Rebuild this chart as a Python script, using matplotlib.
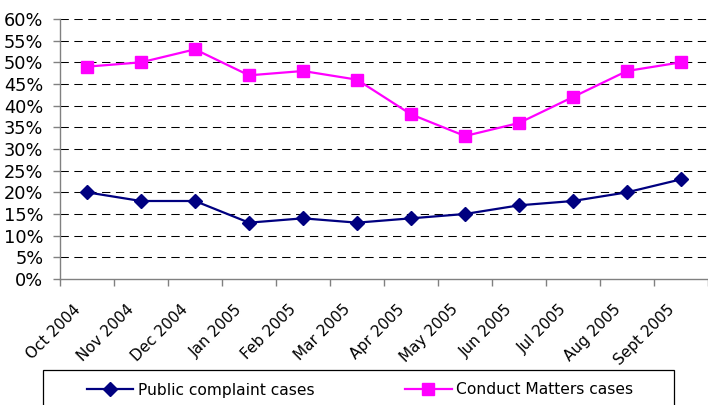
import matplotlib
matplotlib.use("Agg")
import matplotlib.pyplot as plt
import matplotlib.transforms as mtransforms
import numpy as np
from matplotlib.patches import Rectangle
from matplotlib.ticker import FixedLocator, PercentFormatter

# Data
months = ['Oct 2004', 'Nov 2004', 'Dec 2004', 'Jan 2005', 'Feb 2005', 'Mar 2005',
          'Apr 2005', 'May 2005', 'Jun 2005', 'Jul 2005', 'Aug 2005', 'Sept 2005']
public_complaint = [20, 18, 18, 13, 14, 13, 14, 15, 17, 18, 20, 23]
conduct_matters = [49, 50, 53, 47, 48, 46, 38, 33, 36, 42, 48, 50]

plt.rcParams['font.family'] = ['DejaVu Sans']

W, H = 708, 405
fig = plt.figure(figsize=(W / 100, H / 100), dpi=100)
ax = fig.add_axes([60 / W, 1 - 279 / H, 648 / W, 260 / H])

x = np.arange(len(months))
ax.plot(x, public_complaint, color='#000080', lw=1.6, marker='D', markersize=7.5,
        label='Public complaint cases')
ax.plot(x, conduct_matters, color='#FF00FF', lw=1.6, marker='s', markersize=8.5,
        label='Conduct Matters cases')

ax.set_xlim(-0.5, len(months) - 0.5)
ax.set_ylim(0, 60)
ax.set_yticks(np.arange(0, 61, 5))
ax.yaxis.set_major_formatter(PercentFormatter(decimals=0))

# category labels at centers, tick marks at boundaries
ax.set_xticks(x)
ax.set_xticklabels(months, rotation=45, ha='right', va='center', rotation_mode='anchor',
                   fontsize=11)
ax.tick_params(axis='x', which='major', length=0, pad=18)
shift = mtransforms.ScaledTranslation(-9 / 100, -3 / 100, fig.dpi_scale_trans)
for lbl in ax.get_xticklabels():
    lbl.set_transform(lbl.get_transform() + shift)
ax.xaxis.set_minor_locator(FixedLocator(np.arange(-0.5, len(months), 1)))
ax.tick_params(axis='x', which='minor', length=5, color='#808080', width=1)
ax.tick_params(axis='y', length=5, color='#808080', width=1, labelsize=12.8, pad=7)

for y in np.arange(5, 61, 5):
    ax.axhline(y, color='black', lw=0.75, dashes=(8, 5.3), zorder=0)

for side in ['top', 'right']:
    ax.spines[side].set_visible(False)
for side in ['left', 'bottom']:
    ax.spines[side].set_color('#808080')
    ax.spines[side].set_linewidth(1)

# legend (frame drawn separately, it runs off the bottom edge)
leg = fig.legend(loc='center', bbox_to_anchor=(360 / W, 1 - 390 / H),
                 bbox_transform=fig.transFigure, ncol=2, fontsize=11.2,
                 frameon=False, handlelength=3.0, handletextpad=0.3,
                 columnspacing=5.8)
fig.patches.append(Rectangle((43 / W, -0.05), 631 / W, 0.05 + 35 / H,
                             transform=fig.transFigure, fill=False,
                             edgecolor='black', linewidth=0.9))

fig.savefig('out.png', dpi=100)
